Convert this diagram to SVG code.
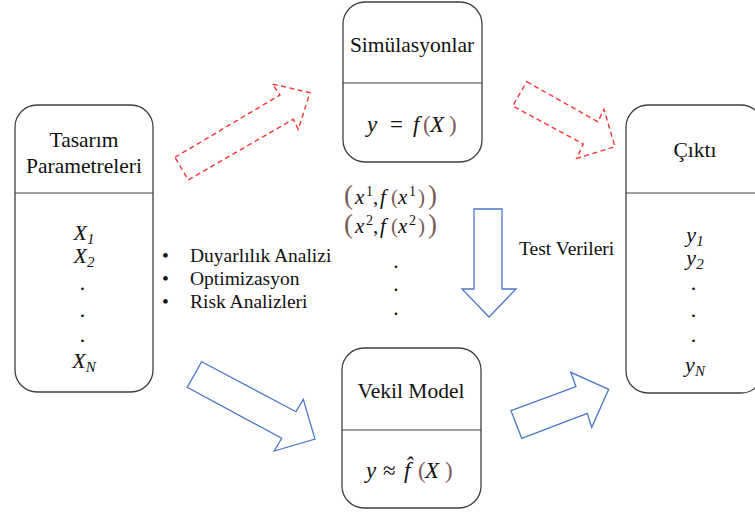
<svg xmlns="http://www.w3.org/2000/svg" width="755" height="513" viewBox="0 0 755 513">
  <style>
    .box { fill: #ffffff; stroke: #404040; stroke-width: 1.3; }
    .sep { stroke: #404040; stroke-width: 1.2; }
    .lbl { font-family: "Liberation Serif", "Times New Roman", serif; font-size: 21.5px; fill: #111; text-anchor: middle; }
    .txt { font-family: "Liberation Serif", "Times New Roman", serif; font-size: 19.5px; fill: #111; }
    .math { font-family: "Liberation Serif", "Times New Roman", serif; font-size: 22px; font-style: italic; fill: #111; text-anchor: middle; }
    .eq { font-family: "Liberation Serif", "Times New Roman", serif; font-size: 23px; font-style: italic; fill: #111; }
    .up { font-style: normal; }
    .par { font-style: normal; fill: #7a5a5a; }
    .big { font-size: 27px; }
    .sup { font-style: normal; font-size: 14px; }
    .sub { font-size: 15px; }
    .dash { fill: none; stroke: #ff3333; stroke-width: 1.4; stroke-dasharray: 5 3.5; }
    .blue { fill: #ffffff; stroke: #4a78c8; stroke-width: 1.3; }
  </style>

  <!-- block arrows between stages -->
  <g id="connectors">
    <polygon class="dash" points="175,157.3 280,95 272.3,84 310,92.7 298.3,129.3 293.3,119.3 188.3,180"/>
    <polygon class="dash" points="526.7,81.7 597.7,121.7 604,109.3 615,146.7 576.7,158.3 583.3,144 512.7,106"/>
    <polygon class="blue" points="474,209 502,209 502,289 516,289 489,317 462,289 474,289"/>
    <polygon class="blue" points="201.7,361.7 296,411.7 303.3,399.3 315,439 274.3,451 281.7,438.3 187.3,387.3"/>
    <polygon class="blue" points="511,410.7 576,386.7 570.7,372.3 608.7,389.3 591.7,427.3 587.3,413.3 521.7,438.3"/>
  </g>

  <!-- design parameters -->
  <g id="node-params">
    <rect class="box" x="15" y="105" width="138" height="287" rx="22"/>
    <line class="sep" x1="15" y1="193" x2="153" y2="193"/>
    <text class="lbl" x="84" y="147">Tasarım</text>
    <text class="lbl" x="84" y="173">Parametreleri</text>
    <text class="math" x="84" y="240">X<tspan class="sub" dy="4">1</tspan></text>
    <text class="math" x="84" y="263">X<tspan class="sub" dy="4">2</tspan></text>
    <text class="math" x="83" y="290">.</text>
    <text class="math" x="83" y="317">.</text>
    <text class="math" x="83" y="342">.</text>
    <text class="math" x="84" y="368">X<tspan class="sub" dy="4">N</tspan></text>
  </g>

  <!-- simulations -->
  <g id="node-sim">
    <rect class="box" x="343" y="2" width="139" height="160" rx="22"/>
    <line class="sep" x1="343" y1="83" x2="482" y2="83"/>
    <text class="lbl" x="412" y="52">Simülasyonlar</text>
    <text class="eq" y="132"><tspan x="367">y</tspan><tspan class="up" x="390">=</tspan><tspan x="413">f</tspan><tspan class="par" x="423">(</tspan><tspan x="430">X</tspan><tspan class="par" x="449">)</tspan></text>
  </g>

  <!-- surrogate model -->
  <g id="node-surrogate">
    <rect class="box" x="342" y="348" width="139" height="160" rx="22"/>
    <line class="sep" x1="342" y1="430" x2="481" y2="430"/>
    <text class="lbl" x="411" y="398">Vekil Model</text>
    <text class="eq" y="478"><tspan x="366">y</tspan><tspan class="up" x="383">≈</tspan><tspan x="404">f̂</tspan><tspan class="par" x="418">(</tspan><tspan x="425">X</tspan><tspan class="par" x="445">)</tspan></text>
  </g>

  <!-- output -->
  <g id="node-output">
    <rect class="box" x="626" y="105" width="137" height="288" rx="22"/>
    <line class="sep" x1="626" y1="193" x2="763" y2="193"/>
    <text class="lbl" x="695" y="157">Çıktı</text>
    <text class="math" x="695" y="242">y<tspan class="sub" dy="4">1</tspan></text>
    <text class="math" x="695" y="265">y<tspan class="sub" dy="4">2</tspan></text>
    <text class="math" x="694" y="290">.</text>
    <text class="math" x="694" y="317">.</text>
    <text class="math" x="694" y="342">.</text>
    <text class="math" x="695" y="372">y<tspan class="sub" dy="4">N</tspan></text>
  </g>

  <!-- analyses list -->
  <g id="uses">
    <text class="txt" x="162" y="262">•</text>
    <text class="txt" x="190" y="262">Duyarlılık Analizi</text>
    <text class="txt" x="162" y="285">•</text>
    <text class="txt" x="190" y="285">Optimizasyon</text>
    <text class="txt" x="162" y="308">•</text>
    <text class="txt" x="190" y="308">Risk Analizleri</text>
  </g>

  <!-- sample pairs -->
  <g id="samples">
    <text class="eq" y="204" style="font-size:21px"><tspan class="par big" x="344">(</tspan><tspan x="355">x</tspan><tspan class="sup" x="366" dy="-8">1</tspan><tspan class="up" x="373" dy="8">,</tspan><tspan x="380">f</tspan><tspan class="par" x="391">(</tspan><tspan x="398">x</tspan><tspan class="sup" x="409" dy="-8">1</tspan><tspan class="par" x="418" dy="8">)</tspan><tspan class="par big" x="428">)</tspan></text>
    <text class="eq" y="233" style="font-size:21px"><tspan class="par big" x="344">(</tspan><tspan x="355">x</tspan><tspan class="sup" x="366" dy="-8">2</tspan><tspan class="up" x="373" dy="8">,</tspan><tspan x="380">f</tspan><tspan class="par" x="391">(</tspan><tspan x="398">x</tspan><tspan class="sup" x="409" dy="-8">2</tspan><tspan class="par" x="418" dy="8">)</tspan><tspan class="par big" x="428">)</tspan></text>
    <text class="lbl" x="396" y="268">.</text>
    <text class="lbl" x="396" y="291">.</text>
    <text class="lbl" x="396" y="315">.</text>
  </g>

  <text class="txt" x="519" y="255">Test Verileri</text>
</svg>
